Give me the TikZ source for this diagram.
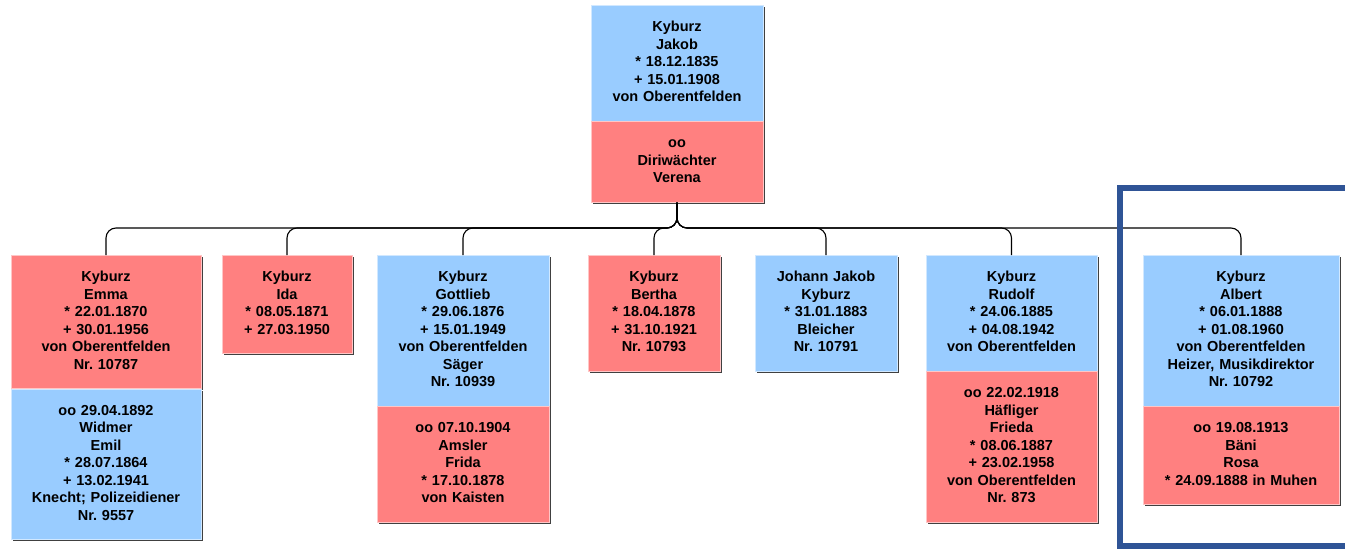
\documentclass[tikz,border=0pt]{standalone}
\usepackage{fontspec}
\setmainfont{Liberation Sans}
\usetikzlibrary{positioning, shadows}
\definecolor{boyblue}{RGB}{153,204,255}
\definecolor{girlred}{RGB}{255,128,128}
\definecolor{markblue}{RGB}{47,84,150}
\tikzstyle{person} = [rectangle, inner xsep=0pt, inner ysep=14pt,
                      align=center, anchor=north, line width=0.8pt,
                      font=\fontsize{14.5pt}{17.5pt}\selectfont\bfseries\frenchspacing,
                      execute at begin node=\strut, execute at end node=\strut,
                      drop shadow={shadow xshift=1.6pt, shadow yshift=-1.6pt,
                                   fill=black!75, opacity=1}]
\tikzstyle{male} = [person, fill=boyblue, draw=boyblue!45!white]
\tikzstyle{female} = [person, fill=girlred, draw=girlred!45!white]
\tikzstyle{famline} = [line width=1.1pt, rounded corners=10pt]
\tikzstyle{highlight} = [line width=6pt, draw=markblue]

\begin{document}
\begin{tikzpicture}[x=1pt, y=1pt]
\useasboundingbox (0,0) rectangle (1345,-549);

% parents
\node (jakob) [male, text width=172pt] at (677,-5) {Kyburz\\Jakob\\{}* 18.12.1835\\+ 15.01.1908\\von Oberentfelden};
\node (verena) [female, text width=172pt, below=0pt of jakob] {oo\\Diriwächter\\Verena};

% children
\node (emma) [female, text width=190pt] at (106,-255) {Kyburz\\Emma\\{}* 22.01.1870\\+ 30.01.1956\\von Oberentfelden\\Nr. 10787};
\node (emil) [male, text width=190pt, below=0pt of emma] {oo 29.04.1892\\Widmer\\Emil\\{}* 28.07.1864\\+ 13.02.1941\\Knecht; Polizeidiener\\Nr. 9557};
\node (ida) [female, text width=130pt] at (287,-255) {Kyburz\\Ida\\{}* 08.05.1871\\+ 27.03.1950};
\node (gottlieb) [male, text width=172pt] at (463,-255) {Kyburz\\Gottlieb\\{}* 29.06.1876\\+ 15.01.1949\\von Oberentfelden\\Säger\\Nr. 10939};
\node (frida) [female, text width=172pt, below=0pt of gottlieb] {oo 07.10.1904\\Amsler\\Frida\\{}* 17.10.1878\\von Kaisten};
\node (bertha) [female, text width=132pt] at (654,-255) {Kyburz\\Bertha\\{}* 18.04.1878\\+ 31.10.1921\\Nr. 10793};
\node (johann) [male, text width=142pt] at (826,-255) {Johann Jakob\\Kyburz\\{}* 31.01.1883\\Bleicher\\Nr. 10791};
\node (rudolf) [male, text width=171pt] at (1011.5,-255) {Kyburz\\Rudolf\\{}* 24.06.1885\\+ 04.08.1942\\von Oberentfelden};
\node (frieda) [female, text width=171pt, below=0pt of rudolf] {oo 22.02.1918\\Häfliger\\Frieda\\{}* 08.06.1887\\+ 23.02.1958\\von Oberentfelden\\Nr. 873};
\node (albert) [male, text width=196pt] at (1241,-255) {Kyburz\\Albert\\{}* 06.01.1888\\+ 01.08.1960\\von Oberentfelden\\Heizer, Musikdirektor\\Nr. 10792};
\node (rosa) [female, text width=196pt, below=0pt of albert] {oo 19.08.1913\\Bäni\\Rosa\\{}* 24.09.1888 in Muhen};

% lines down to the children
\coordinate (bus) at (0,-228);
\foreach \kid in {emma,ida,gottlieb,bertha,johann,rudolf,albert}
  \draw [famline] (\kid.north) |- (bus -| verena.south) -- (verena.south);

% highlight frame
\draw [highlight] (1120,-188) rectangle (1370,-546);
\end{tikzpicture}
\end{document}
